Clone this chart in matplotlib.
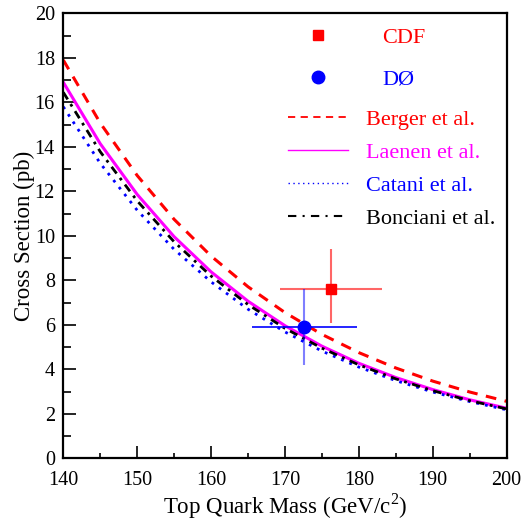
"""Top quark pair cross section vs top mass: theory curves and Tevatron data."""

import matplotlib
matplotlib.use("Agg")
import matplotlib.pyplot as plt
from matplotlib.lines import Line2D
from matplotlib.ticker import MultipleLocator

plt.rcParams["font.family"] = "serif"
plt.rcParams["font.serif"] = ["Liberation Serif", "DejaVu Serif"]
plt.rcParams["mathtext.fontset"] = "custom"
plt.rcParams["mathtext.rm"] = "Liberation Serif"

# ---- data ------------------------------------------------------------
mass = [140, 145, 150, 155, 160, 165, 170, 175, 180, 185, 190, 195, 200]
berger = [17.9, 15.07, 12.71, 10.74, 9.09, 7.71, 6.55, 5.57, 4.75, 4.06, 3.47, 2.98, 2.56]
laenen = [16.9, 14.14, 11.86, 9.96, 8.38, 7.06, 5.96, 5.04, 4.27, 3.63, 3.09, 2.63, 2.25]
catani = [15.8, 13.26, 11.15, 9.39, 7.93, 6.70, 5.68, 4.82, 4.10, 3.49, 2.98, 2.55, 2.18]
bonciani = [16.45, 13.78, 11.57, 9.73, 8.19, 6.91, 5.84, 4.95, 4.20, 3.57, 3.04, 2.59, 2.22]

cdf_mass, cdf_mass_err = 176.2, 6.9
cdf_xsec, cdf_xsec_lo, cdf_xsec_hi = 7.6, 1.5, 1.8
d0_mass, d0_mass_err = 172.6, 7.1
d0_xsec, d0_xsec_lo, d0_xsec_hi = 5.9, 1.7, 1.7

fig = plt.figure(figsize=(5.30, 5.22), dpi=100)
ax = fig.add_axes([0.1194, 0.122, 0.8366, 0.8525])

ax.plot(mass, berger, color="red", lw=2.2, ls=(0, (3.5, 2.8)))
ax.plot(mass, laenen, color="magenta", lw=2.2, ls="-")
ax.plot(mass, catani, color="blue", lw=2.0, ls=(0, (1, 2.2)))
ax.plot(mass, bonciani, color="black", lw=2.0, ls=(0, (3, 2, 1, 2)))

# data points: the error bars are drawn faint, the markers solid
ax.errorbar([cdf_mass], [cdf_xsec], xerr=[cdf_mass_err],
            yerr=[[cdf_xsec_lo], [cdf_xsec_hi]], fmt="none",
            ecolor=(1, 0, 0, 0.6), elinewidth=1.5, capsize=0)
ax.plot([cdf_mass], [cdf_xsec], "s", color="red", ms=6.5)
ax.errorbar([d0_mass], [d0_xsec], xerr=[d0_mass_err], fmt="none",
            ecolor="blue", elinewidth=1.2, capsize=0)
ax.errorbar([d0_mass], [d0_xsec], yerr=[[d0_xsec_lo], [d0_xsec_hi]],
            fmt="none", ecolor=(0, 0, 1, 0.5), elinewidth=1.5, capsize=0)
ax.plot([d0_mass], [d0_xsec], "o", color="blue", ms=9)

ax.set_xlim(140, 200)
ax.set_ylim(0, 20)
ax.xaxis.set_major_locator(MultipleLocator(10))
ax.xaxis.set_minor_locator(MultipleLocator(5))
ax.yaxis.set_major_locator(MultipleLocator(2))
ax.yaxis.set_minor_locator(MultipleLocator(1))
ax.tick_params(which="both", direction="in", top=False, right=False,
               width=1.2, labelsize=14.5)
ax.tick_params(axis="x", which="major", length=8.5, pad=9)
ax.tick_params(axis="x", which="minor", length=3.6)
ax.tick_params(axis="y", which="major", length=9.5, pad=6)
ax.tick_params(axis="y", which="minor", length=5.5)
for s in ax.spines.values():
    s.set_linewidth(1.6)

ax.set_xlabel("Top Quark Mass (GeV/c$^2$)", fontsize=16.5, labelpad=1.5)
ax.set_ylabel("Cross Section (pb)", fontsize=16.5, labelpad=0)

# ---- legends: markers first, then the theory curves -------------------
pts = [Line2D([], [], ls="none", marker="s", color="red", ms=6.5),
       Line2D([], [], ls="none", marker="o", color="blue", ms=9)]
leg1 = ax.legend(pts, ["CDF", "DØ"], loc="upper left",
                 bbox_to_anchor=(288 / 530, 1 - 27 / 522),
                 bbox_transform=fig.transFigure, frameon=False,
                 fontsize=16, handlelength=2.7, handletextpad=1.55,
                 labelspacing=0.98, borderpad=0, borderaxespad=0,
                 labelcolor=["red", "blue"])
ax.add_artist(leg1)

lines = [Line2D([], [], color="red", lw=1.3, ls=(0, (4, 3))),
         Line2D([], [], color="magenta", lw=1.0),
         Line2D([], [], color="blue", lw=1.0, ls=(0, (1, 2.5))),
         Line2D([], [], color="black", lw=1.5, ls=(0, (4, 3, 1, 3)))]
ax.legend(lines, ["Berger et al.", "Laenen et al.", "Catani et al.",
                  "Bonciani et al."], loc="upper left",
          bbox_to_anchor=(288 / 530, 1 - 109 / 522),
          bbox_transform=fig.transFigure, frameon=False,
          fontsize=16, handlelength=2.7, handletextpad=0.8,
          labelspacing=0.56, borderpad=0, borderaxespad=0,
          labelcolor=["red", "magenta", "blue", "black"])

fig.savefig("out.png", dpi=100)
